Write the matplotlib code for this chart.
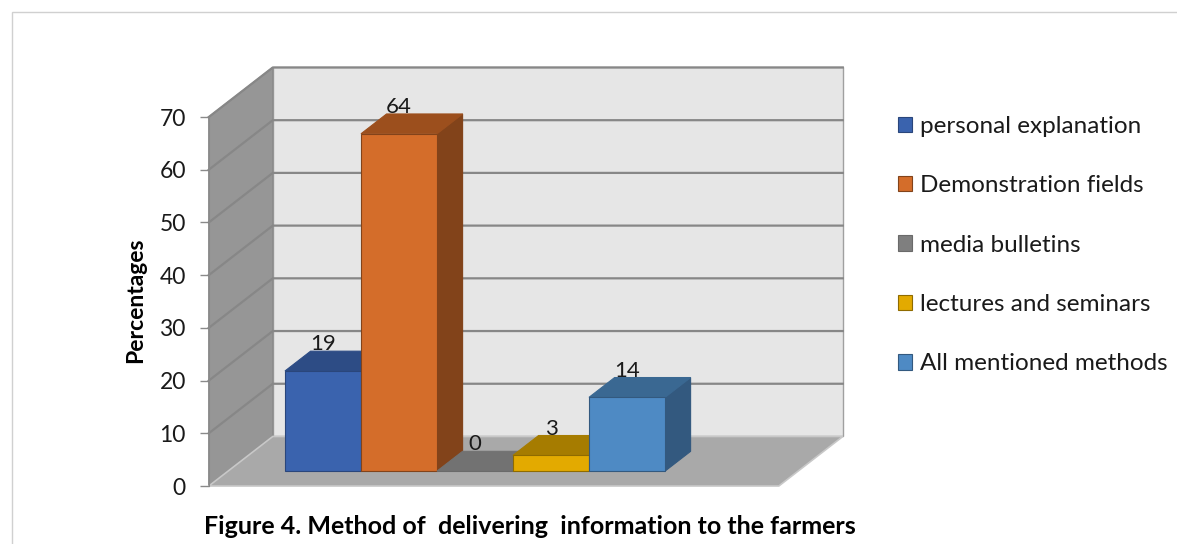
import matplotlib.pyplot as plt
import numpy as np
from matplotlib.patches import Polygon, Patch, Rectangle

# ---- data ----
methods = ['personal explanation', 'Demonstration fields', 'media bulletins',
           'lectures and seminars', 'All mentioned methods']
values = [19, 64, 0, 3, 14]
yticks = [0, 10, 20, 30, 40, 50, 60, 70]

# front / top / side colours of each bar
front_colors = ['#3a63ae', '#d46d2a', '#7f7f7f', '#e3aa00', '#4e8ac4']
top_colors = ['#2d4c85', '#9c4f1d', '#727272', '#a67c00', '#3a6892']
side_colors = ['#2a467b', '#82431a', '#6a6a6a', '#8f6b00', '#33597f']

plt.rcParams['font.family'] = ['Lato', 'DejaVu Sans']

# ---- pseudo 3D geometry (x in bar widths, y in percent) ----
DX, DY = 0.842, 9.4          # offset of the back plane
Z0, Z1 = 0.3, 0.7            # depth slice occupied by the bars
XL, XR = -0.75, 6.75         # left / right end of the floor (front)
YMAX = 70


def proj(x, y, z):
    return (x + z * DX, y + z * DY)


fig = plt.figure(figsize=(11.77, 5.44), dpi=100)
ax = fig.add_axes([0, 0, 1, 1])
ax.set_xlim(-3.497, 11.989)
ax.set_ylim(-11.0, 92.2)

# walls and floor
side = [proj(XL, 0, 0), proj(XL, YMAX, 0), proj(XL, YMAX, 1), proj(XL, 0, 1)]
back = [proj(XL, 0, 1), proj(XL, YMAX, 1), proj(XR, YMAX, 1), proj(XR, 0, 1)]
floor = [proj(XL, 0, 0), proj(XR, 0, 0), proj(XR, 0, 1), proj(XL, 0, 1)]
ax.add_patch(Polygon(back, closed=True, facecolor='#e6e6e6', edgecolor='#a0a0a0', lw=1, zorder=1))
ax.add_patch(Polygon(side, closed=True, facecolor='#969696', edgecolor='#8a8a8a', lw=1, zorder=1))
ax.add_patch(Polygon(floor, closed=True, facecolor='#a9a9a9', edgecolor='#c8c8c8', lw=1.2, zorder=1))

# gridlines on back wall and side wall
for v in yticks[1:]:
    p0, p1, p2 = proj(XL, v, 0), proj(XL, v, 1), proj(XR, v, 1)
    ax.plot([p0[0], p1[0], p2[0]], [p0[1], p1[1], p2[1]], color='#878787', lw=1.6, zorder=2)

# bars, left to right
for i, (v, fc, tc, sc) in enumerate(zip(values, front_colors, top_colors, side_colors)):
    x0, x1 = i, i + 1
    right = [proj(x1, 0, Z0), proj(x1, v, Z0), proj(x1, v, Z1), proj(x1, 0, Z1)]
    top = [proj(x0, v, Z0), proj(x1, v, Z0), proj(x1, v, Z1), proj(x0, v, Z1)]
    front = [proj(x0, 0, Z0), proj(x1, 0, Z0), proj(x1, v, Z0), proj(x0, v, Z0)]
    ax.add_patch(Polygon(right, closed=True, facecolor=sc, edgecolor=sc, lw=0.8, zorder=3))
    ax.add_patch(Polygon(top, closed=True, facecolor=tc, edgecolor=tc, lw=0.8, zorder=3))
    ax.add_patch(Polygon(front, closed=True, facecolor=fc, edgecolor=sc, lw=0.8, zorder=3))
    lx, ly = proj(i + 0.5, v, Z1)
    ax.text(i + 0.5 + Z0 * DX, ly - 0.6, str(v), ha='center', va='bottom',
            fontsize=16, color='#1a1a1a', zorder=5)

# value axis on the front edge of the side wall
for s in ['top', 'right', 'bottom']:
    ax.spines[s].set_visible(False)
ax.spines['left'].set_position(('data', XL))
ax.spines['left'].set_bounds(0, YMAX)
ax.spines['left'].set_color('#8a8a8a')
ax.set_yticks(yticks)
ax.set_xticks([])
ax.tick_params(axis='y', direction='out', length=6.5, width=1, color='#8a8a8a',
               pad=10, labelsize=16.5, labelcolor='#1a1a1a')
ax.patch.set_visible(False)

fig.text(136 / 1177, 1 - 300 / 544, 'Percentages', rotation=90, ha='center', va='center',
         fontsize=16.5, fontweight='bold', color='#000000')
fig.text(530 / 1177, 1 - 526 / 544, 'Figure 4. Method of  delivering  information to the farmers',
         ha='center', va='center', fontsize=18, fontweight='bold', color='#000000')

handles = [Patch(facecolor=fc, edgecolor=sc, lw=0.8) for fc, sc in zip(front_colors, side_colors)]
fig.legend(handles, methods, loc='upper left', bbox_to_anchor=(876 / 1177, 1 - 94 / 544),
           frameon=False, fontsize=17.5, handlelength=0.6, handleheight=0.6,
           handletextpad=0.3, labelspacing=1.58, labelcolor='#1a1a1a')

# chart-area border
fig.add_artist(Rectangle((12 / 1177, -0.1), 1.1, 1.1 - 12 / 544, transform=fig.transFigure,
                         fill=False, edgecolor='#d0d0d0', lw=1))

plt.savefig('out.png', dpi=100, facecolor='white')
